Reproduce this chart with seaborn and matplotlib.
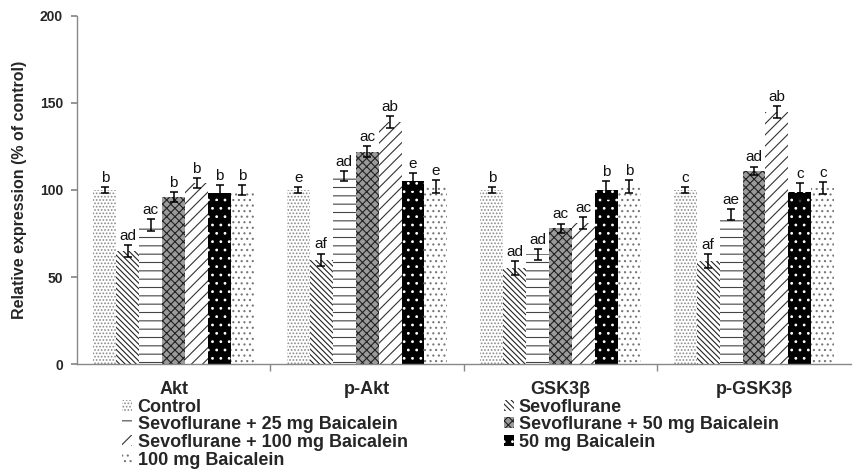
import pandas as pd
import numpy as np
import seaborn as sns
import matplotlib.pyplot as plt
from matplotlib.patches import Patch

proteins = ['Akt', 'p-Akt', 'GSK3β', 'p-GSK3β']
groups = ['Control', 'Sevoflurane', 'Sevoflurane + 25 mg Baicalein',
          'Sevoflurane + 50 mg Baicalein', 'Sevoflurane + 100 mg Baicalein',
          '50 mg Baicalein', '100 mg Baicalein']

# one list per group, values for Akt, p-Akt, GSK3b, p-GSK3b
control = [100, 100, 100, 100]
sevo = [65, 60, 55, 59]
sevo_25 = [80, 108, 63, 86]
sevo_50 = [96, 122, 78, 111]
sevo_100 = [104, 139, 81, 145]
baic_50 = [98, 105, 100, 99]
baic_100 = [100, 102, 102, 101]

control_err = [1.5, 1.5, 1.5, 1.5]
sevo_err = [3.5, 3.5, 4, 4]
sevo_25_err = [3.5, 3, 3, 3]
sevo_50_err = [2.8, 3, 2.7, 2.5]
sevo_100_err = [3, 3.5, 3.5, 3.5]
baic_50_err = [5, 5, 5, 5]
baic_100_err = [3, 3.5, 3.5, 3.5]

control_lab = ['b', 'e', 'b', 'c']
sevo_lab = ['ad', 'af', 'ad', 'af']
sevo_25_lab = ['ac', 'ad', 'ad', 'ae']
sevo_50_lab = ['b', 'ac', 'ac', 'ad']
sevo_100_lab = ['b', 'ab', 'ac', 'ab']
baic_50_lab = ['b', 'e', 'b', 'c']
baic_100_lab = ['b', 'e', 'b', 'c']

vals = [control, sevo, sevo_25, sevo_50, sevo_100, baic_50, baic_100]
errs = [control_err, sevo_err, sevo_25_err, sevo_50_err, sevo_100_err, baic_50_err, baic_100_err]
labs = [control_lab, sevo_lab, sevo_25_lab, sevo_50_lab, sevo_100_lab, baic_50_lab, baic_100_lab]

rows = []
for g, v in zip(groups, vals):
    for p, x in zip(proteins, v):
        rows.append({'protein': p, 'group': g, 'value': x})
df = pd.DataFrame(rows)

# face colour, hatch, hatch colour
styles = [('white', '.....', '#8a8a8a'),
          ('white', '\\\\\\\\\\\\', '#222222'),
          ('white', '--', '#444444'),
          ('#9a9a9a', 'xxxx', '#222222'),
          ('white', '///', '#333333'),
          ('black', '..', 'white'),
          ('white', '...', '#777777')]

sns.set_theme(style='white')
plt.rcParams['font.family'] = ['Liberation Sans', 'DejaVu Sans']
plt.rcParams['hatch.linewidth'] = 0.8

fig = plt.figure(figsize=(8.55, 4.7), dpi=100)
ax = fig.add_axes([0.09, 0.2255, 0.905, 0.7405])

sns.barplot(data=df, x='protein', y='value', hue='group', order=proteins,
            hue_order=groups, width=0.83, gap=0, legend=False, ax=ax,
            errorbar=None, palette=['white'] * 7)

bar_conts = list(ax.containers)
for k, cont in enumerate(bar_conts):
    fc, h, hc = styles[k]
    for j, bar in enumerate(cont):
        bar.set_facecolor(fc)
        bar.set_hatch(h)
        bar.set_edgecolor(hc)
        bar.set_linewidth(0)
        cx = bar.get_x() + bar.get_width() / 2
        top = vals[k][j]
        e = errs[k][j]
        ax.errorbar(cx, top, yerr=e, fmt='none', ecolor='black',
                    elinewidth=1.1, capsize=3.2, capthick=1.1, zorder=5)
        ax.text(cx, top + e + 1.2, labs[k][j], ha='center', va='bottom',
                fontsize=11, color='#111111')

ax.set_xlim(-0.5, 3.5)
ax.set_ylim(0, 200)
ax.set_yticks([0, 50, 100, 150, 200])
ax.set_xlabel('')
ax.set_ylabel('Relative expression (% of control)', fontsize=11.5,
              fontweight='bold', labelpad=9)
for s in ['top', 'right']:
    ax.spines[s].set_visible(False)
for s in ['left', 'bottom']:
    ax.spines[s].set_color('#888888')
    ax.spines[s].set_linewidth(1)
ax.tick_params(axis='y', left=True, length=4, color='#888888', labelsize=10, pad=6)
ax.tick_params(axis='x', bottom=False, labelsize=13, pad=6)
ax.set_xticks([0.5, 1.5, 2.5], minor=True)
ax.tick_params(axis='x', which='minor', bottom=True, length=5, color='#888888')
for t in ax.get_yticklabels() + ax.get_xticklabels():
    t.set_fontweight('bold')

handles = [Patch(facecolor=fc, hatch=h, edgecolor=hc, linewidth=0) for fc, h, hc in styles]
left_idx = [0, 2, 4, 6]
right_idx = [1, 3, 5]
kw = dict(frameon=False, handlelength=0.55, handleheight=0.55, handletextpad=0.3,
          labelspacing=0.04, borderaxespad=0, borderpad=0,
          prop={'weight': 'bold', 'size': 13})
leg1 = fig.legend([handles[i] for i in left_idx], [groups[i] for i in left_idx],
                  loc='upper left', bbox_to_anchor=(0.143, 0.152), **kw)
leg2 = fig.legend([handles[i] for i in right_idx], [groups[i] for i in right_idx],
                  loc='upper left', bbox_to_anchor=(0.589, 0.152), **kw)

fig.savefig('out.png', dpi=100)
